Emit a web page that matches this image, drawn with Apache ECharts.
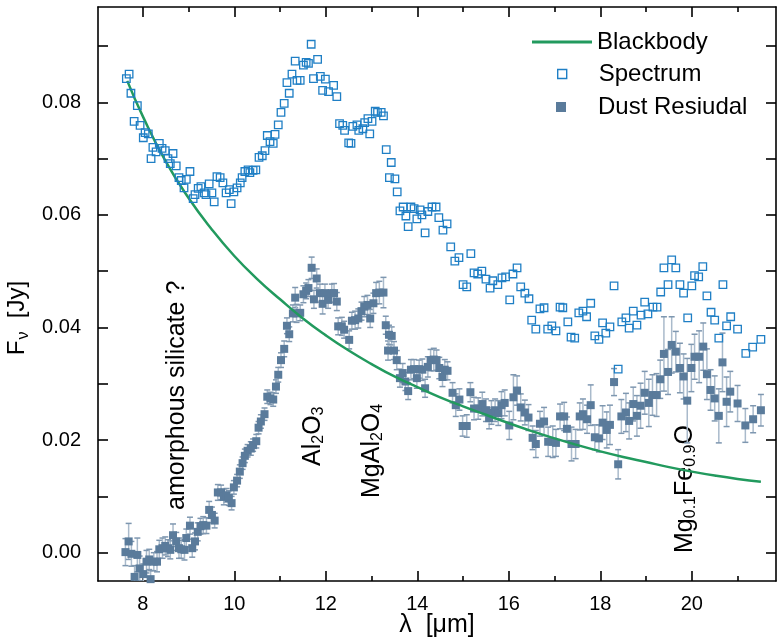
<!DOCTYPE html>
<html>
<head>
<meta charset="utf-8">
<script src="https://cdn.jsdelivr.net/npm/echarts@6/dist/echarts.min.js"></script>
<style>
html,body{margin:0;padding:0;background:#fff}
#main{width:777px;height:637px}
</style>
</head>
<body>
<div id="main"></div>
<script>
// 光谱 (空心方块)
var specX = [7.64,7.70,7.74,7.81,7.88,7.94,8.01,8.05,8.12,8.18,8.22,8.29,8.36,8.42,8.49,8.55,8.60,8.66,8.73,8.79,8.84,8.90,8.95,9.03,9.10,9.14,9.21,9.27,9.34,9.38,9.45,9.51,9.56,9.62,9.69,9.75,9.82,9.89,9.93,9.99,10.06,10.13,10.17,10.23,10.30,10.34,10.41,10.47,10.54,10.61,10.67,10.72,10.78,10.85,10.89,10.96,11.02,11.09,11.15,11.20,11.26,11.33,11.37,11.44,11.51,11.57,11.62,11.68,11.73,11.82,11.88,11.93,11.99,12.06,12.17,12.24,12.30,12.37,12.41,12.50,12.55,12.59,12.68,12.72,12.81,12.85,12.92,12.96,13.01,13.08,13.13,13.21,13.26,13.32,13.39,13.43,13.51,13.56,13.62,13.69,13.75,13.80,13.86,13.93,13.99,14.06,14.10,14.17,14.23,14.32,14.41,14.47,14.56,14.65,14.73,14.82,14.91,15.00,15.08,15.17,15.24,15.32,15.41,15.50,15.59,15.65,15.76,15.85,15.93,16.02,16.09,16.18,16.26,16.35,16.44,16.50,16.59,16.68,16.77,16.85,16.94,17.03,17.12,17.18,17.29,17.36,17.44,17.53,17.62,17.70,17.79,17.88,17.97,18.05,18.12,18.21,18.30,18.39,18.47,18.56,18.63,18.72,18.80,18.89,18.97,19.04,19.15,19.24,19.32,19.39,19.48,19.56,19.65,19.74,19.82,19.91,20.00,20.06,20.15,20.24,20.33,20.42,20.50,20.59,20.68,20.76,20.85,21.00,21.18,21.33,21.51];
var specY = [0.0842,0.0850,0.0816,0.0766,0.0794,0.0759,0.0737,0.0746,0.0744,0.0700,0.0720,0.0712,0.0727,0.0718,0.0714,0.0700,0.0691,0.0709,0.0687,0.0666,0.0661,0.0648,0.0663,0.0677,0.0629,0.0636,0.0647,0.0650,0.0639,0.0636,0.0655,0.0639,0.0623,0.0668,0.0666,0.0657,0.0639,0.0645,0.0620,0.0641,0.0648,0.0657,0.0666,0.0677,0.0680,0.0675,0.0679,0.0680,0.0702,0.0705,0.0714,0.0741,0.0730,0.0727,0.0743,0.0760,0.0782,0.0798,0.0835,0.0816,0.0850,0.0873,0.0839,0.0839,0.0866,0.0871,0.0869,0.0903,0.0842,0.0876,0.0846,0.0821,0.0841,0.0819,0.0830,0.0810,0.0762,0.0759,0.0750,0.0728,0.0727,0.0757,0.0760,0.0750,0.0753,0.0764,0.0771,0.0744,0.0766,0.0784,0.0782,0.0782,0.0776,0.0716,0.0666,0.0693,0.0664,0.0641,0.0607,0.0614,0.0598,0.0579,0.0614,0.0611,0.0593,0.0609,0.0600,0.0568,0.0606,0.0614,0.0614,0.0595,0.0573,0.0584,0.0543,0.0518,0.0524,0.0476,0.0472,0.0531,0.0497,0.0495,0.0500,0.0486,0.0470,0.0483,0.0476,0.0488,0.0490,0.0449,0.0495,0.0506,0.0472,0.0461,0.0451,0.0413,0.0397,0.0433,0.0435,0.0397,0.0403,0.0394,0.0436,0.0435,0.0410,0.0383,0.0381,0.0426,0.0429,0.0419,0.0443,0.0385,0.0379,0.0408,0.0390,0.0401,0.0474,0.0326,0.0410,0.0417,0.0399,0.0429,0.0404,0.0422,0.0445,0.0424,0.0436,0.0436,0.0463,0.0506,0.0476,0.0520,0.0506,0.0476,0.0461,0.0417,0.0474,0.0492,0.0490,0.0508,0.0456,0.0427,0.0413,0.0381,0.0476,0.0403,0.0419,0.0397,0.0354,0.0365,0.0379];

// 尘埃残差 (实心方块 + 误差棒)
var dustX = [7.62,7.69,7.75,7.82,7.88,7.93,8.01,8.08,8.14,8.17,8.24,8.31,8.36,8.43,8.49,8.55,8.60,8.66,8.73,8.79,8.84,8.91,8.95,9.03,9.08,9.14,9.20,9.26,9.32,9.39,9.45,9.51,9.57,9.64,9.71,9.77,9.83,9.88,9.94,9.99,10.06,10.12,10.18,10.23,10.29,10.36,10.41,10.48,10.53,10.58,10.66,10.72,10.79,10.85,10.91,10.96,11.02,11.09,11.15,11.20,11.28,11.33,11.36,11.44,11.51,11.57,11.62,11.69,11.74,11.80,11.87,11.93,11.98,12.05,12.13,12.18,12.24,12.27,12.35,12.40,12.51,12.57,12.64,12.71,12.78,12.84,12.91,12.97,13.04,13.10,13.17,13.26,13.31,13.36,13.38,13.44,13.49,13.55,13.62,13.68,13.74,13.80,13.86,13.93,13.99,14.04,14.11,14.17,14.23,14.29,14.36,14.42,14.48,14.55,14.60,14.66,14.77,14.84,14.92,14.99,15.08,15.16,15.24,15.33,15.42,15.50,15.57,15.62,15.70,15.77,15.84,15.91,16.01,16.10,16.18,16.26,16.35,16.43,16.52,16.59,16.68,16.77,16.86,16.96,17.03,17.12,17.21,17.27,17.37,17.46,17.55,17.62,17.71,17.79,17.88,17.97,18.05,18.14,18.21,18.30,18.39,18.46,18.56,18.63,18.72,18.80,18.88,18.97,19.06,19.14,19.23,19.31,19.39,19.48,19.56,19.65,19.74,19.82,19.90,19.99,20.06,20.16,20.25,20.33,20.41,20.50,20.59,20.67,20.76,20.84,21.00,21.17,21.34,21.51];
var dustY = [0.0001,0.0020,-0.0002,-0.0043,-0.0004,-0.0028,-0.0038,-0.0016,-0.0012,-0.0047,-0.0016,-0.0016,0.0006,0.0008,0.0012,0.0008,0.0005,0.0031,0.0020,0.0008,0.0006,0.0005,0.0026,0.0048,0.0008,0.0020,0.0037,0.0047,0.0049,0.0048,0.0076,0.0067,0.0057,0.0107,0.0107,0.0099,0.0102,0.0097,0.0088,0.0116,0.0128,0.0144,0.0159,0.0172,0.0181,0.0185,0.0191,0.0198,0.0222,0.0233,0.0246,0.0277,0.0274,0.0272,0.0295,0.0316,0.0342,0.0362,0.0403,0.0388,0.0425,0.0453,0.0425,0.0426,0.0459,0.0465,0.0470,0.0506,0.0450,0.0487,0.0461,0.0442,0.0461,0.0449,0.0461,0.0461,0.0446,0.0402,0.0402,0.0396,0.0378,0.0412,0.0413,0.0416,0.0429,0.0437,0.0440,0.0416,0.0443,0.0461,0.0462,0.0462,0.0404,0.0359,0.0387,0.0385,0.0359,0.0342,0.0310,0.0319,0.0304,0.0287,0.0325,0.0326,0.0310,0.0326,0.0325,0.0292,0.0330,0.0342,0.0343,0.0342,0.0328,0.0312,0.0325,0.0323,0.0284,0.0262,0.0272,0.0225,0.0225,0.0285,0.0256,0.0256,0.0264,0.0253,0.0239,0.0249,0.0253,0.0248,0.0262,0.0266,0.0226,0.0276,0.0288,0.0258,0.0249,0.0240,0.0204,0.0193,0.0229,0.0233,0.0197,0.0197,0.0195,0.0242,0.0242,0.0220,0.0193,0.0193,0.0242,0.0246,0.0237,0.0262,0.0205,0.0203,0.0231,0.0218,0.0227,0.0303,0.0157,0.0242,0.0249,0.0234,0.0264,0.0243,0.0261,0.0284,0.0266,0.0280,0.0280,0.0308,0.0353,0.0321,0.0369,0.0357,0.0328,0.0313,0.0270,0.0328,0.0348,0.0348,0.0366,0.0317,0.0289,0.0274,0.0243,0.0338,0.0268,0.0286,0.0265,0.0226,0.0237,0.0253];
var dustErr = [0.0024,0.0032,0.0022,0.0020,0.0030,0.0022,0.0018,0.0020,0.0018,0.0015,0.0016,0.0018,0.0016,0.0018,0.0016,0.0015,0.0016,0.0020,0.0016,0.0018,0.0016,0.0018,0.0016,0.0015,0.0016,0.0015,0.0016,0.0014,0.0015,0.0014,0.0015,0.0014,0.0013,0.0014,0.0013,0.0014,0.0012,0.0013,0.0012,0.0012,0.0011,0.0012,0.0011,0.0012,0.0011,0.0012,0.0011,0.0012,0.0011,0.0012,0.0011,0.0012,0.0011,0.0012,0.0012,0.0013,0.0013,0.0014,0.0014,0.0013,0.0015,0.0018,0.0016,0.0014,0.0015,0.0014,0.0015,0.0019,0.0016,0.0017,0.0016,0.0018,0.0016,0.0015,0.0016,0.0017,0.0016,0.0015,0.0016,0.0015,0.0016,0.0015,0.0016,0.0017,0.0016,0.0018,0.0017,0.0016,0.0018,0.0019,0.0020,0.0027,0.0016,0.0017,0.0017,0.0016,0.0016,0.0017,0.0016,0.0017,0.0016,0.0015,0.0018,0.0017,0.0018,0.0016,0.0019,0.0016,0.0018,0.0019,0.0020,0.0018,0.0019,0.0017,0.0018,0.0016,0.0018,0.0020,0.0019,0.0018,0.0020,0.0017,0.0020,0.0019,0.0021,0.0020,0.0019,0.0021,0.0020,0.0022,0.0024,0.0023,0.0025,0.0040,0.0026,0.0024,0.0022,0.0023,0.0021,0.0024,0.0022,0.0025,0.0026,0.0028,0.0024,0.0022,0.0025,0.0021,0.0030,0.0026,0.0024,0.0027,0.0025,0.0036,0.0022,0.0024,0.0030,0.0032,0.0035,0.0024,0.0026,0.0030,0.0034,0.0032,0.0030,0.0036,0.0040,0.0038,0.0042,0.0036,0.0038,0.0034,0.0066,0.0040,0.0050,0.0036,0.0044,0.0040,0.0075,0.0042,0.0040,0.0046,0.0042,0.0045,0.0036,0.0040,0.0048,0.0052,0.0044,0.0036,0.0032,0.0030,0.0024,0.0028];

// 黑体曲线
var bbX = [7.66,8.0,8.5,9.0,9.5,10.0,10.5,11.0,11.5,12.0,12.5,13.0,13.5,14.0,14.5,15.0,15.5,16.0,16.5,17.0,17.5,18.0,18.5,19.0,19.5,20.0,20.5,21.0,21.51];
var bbY = [0.0838,0.0775,0.0695,0.0630,0.0575,0.0527,0.0486,0.0450,0.0416,0.0386,0.0359,0.0335,0.0313,0.0294,0.0276,0.0260,0.0245,0.0230,0.0216,0.0203,0.0191,0.0180,0.0170,0.0161,0.0152,0.0144,0.0137,0.0131,0.0126];

// 刻度
var xMajor = [8,10,12,14,16,18,20];
var xMinor = [9,11,13,15,17,19,21];
var yMajor = [0,0.02,0.04,0.06,0.08];
var yTicks = [0,0.01,0.02,0.03,0.04,0.05,0.06,0.07,0.08,0.09];

(function(){
  var FONT = '"Liberation Sans", Arial, sans-serif';
  var specData = specX.map(function(x,i){ return [x, specY[i]]; });
  var dustData = dustX.map(function(x,i){ return [x, dustY[i]]; });
  var errData = dustX.map(function(x,i){ return [x, dustY[i], dustErr[i]]; });
  var bbData = bbX.map(function(x,i){ return [x, bbY[i]]; });

  var myChart = echarts.init(document.getElementById('main'));

  function xAx(pos, ticks, len, showLine, showLabel){
    return {
      type:'value', position:pos, min:7.02, max:21.84,
      splitLine:{show:false},
      axisLine:{show:showLine, onZero:false, lineStyle:{color:'#000', width:1.6}},
      axisTick:{show:true, inside:true, length:len, customValues:ticks, lineStyle:{color:'#000', width:1.6}},
      axisLabel:{show:showLabel, customValues:xMajor, margin:13, color:'#000', fontSize:20, fontFamily:FONT}
    };
  }
  function yAx(pos, showLabel){
    return {
      type:'value', position:pos, min:-0.00503, max:0.09692,
      splitLine:{show:false},
      axisLine:{show:true, onZero:false, lineStyle:{color:'#000', width:1.6}},
      axisTick:{show:true, inside:true, length:10, customValues:yTicks, lineStyle:{color:'#000', width:1.6}},
      axisLabel:{show:showLabel, customValues:yMajor, margin:17, color:'#000', fontSize:20, fontFamily:FONT,
        formatter:function(v){ return v.toFixed(2); }}
    };
  }

  var xb = xAx('bottom', xMajor, 10, true, true);
  xb.name = 'λ  [μm]';
  xb.nameLocation = 'middle';
  xb.nameGap = 32;
  xb.nameMoveOverlap = false;
  xb.nameTextStyle = {color:'#000', fontSize:25, fontFamily:FONT, verticalAlign:'top'};

  var yl = yAx('left', true);
  yl.name = '{m|F}{s|ν}{m|  [Jy]}';
  yl.nameLocation = 'middle';
  yl.nameGap = 60;
  yl.nameTextStyle = {color:'#000', fontFamily:FONT, padding:[0,48,0,0],
    rich:{m:{fontSize:24, lineHeight:26, verticalAlign:'top', color:'#000', fontFamily:FONT},
          s:{fontSize:16, lineHeight:16, verticalAlign:'bottom', padding:[14,0,0,1], color:'#000', fontFamily:FONT}}};

  var sub = function(fs){
    return {
      m:{fontSize:fs, lineHeight:26, verticalAlign:'top', fill:'#000', fontFamily:FONT},
      s:{fontSize:16, lineHeight:16, verticalAlign:'bottom', padding:[15,0,0,0], fill:'#000', fontFamily:FONT}
    };
  };

  var legendText = {fontSize:24, color:'#000', fontFamily:FONT};

  var option = {
    animation:false,
    backgroundColor:'#fff',
    grid:{left:98, right:1, top:7, bottom:56, containLabel:false, outerBoundsMode:'none'},
    xAxis:[
      xb,
      xAx('bottom', xMinor, 5, false, false),
      xAx('top', xMajor, 10, true, false),
      xAx('top', xMinor, 5, false, false)
    ],
    yAxis:[ yl, yAx('right', false) ],
    legend:[
      {data:[{name:'Blackbody', icon:'path://M0,0L60,0L60,3L0,3Z'}], left:532, top:30, padding:0, itemWidth:60, itemHeight:3,
       itemStyle:{color:'#229a5e', borderWidth:0},
       textStyle:legendText},
      {data:[{name:'Spectrum', icon:'rect'}], left:557, top:62, padding:0, itemWidth:9, itemHeight:9,
       itemStyle:{color:'#fff', borderColor:'#1f7fc5', borderWidth:1.4},
       textStyle:{fontSize:24, color:'#000', fontFamily:FONT, padding:[0,0,0,27]}},
      {data:[{name:'Dust Resiudal', icon:'rect'}], left:556, top:95, padding:0, itemWidth:10, itemHeight:10,
       itemStyle:{color:'#5a7b9b', borderWidth:0},
       textStyle:{fontSize:24, color:'#000', fontFamily:FONT, padding:[0,0,0,27]}}
    ],
    graphic:[
      {type:'text', x:177, y:510, rotation:Math.PI/2,
       style:{text:'amorphous silicate ?', fontSize:25, fontFamily:FONT, fill:'#000', align:'left', verticalAlign:'middle'}},
      {type:'text', x:314, y:466, rotation:Math.PI/2,
       style:{text:'{m|Al}{s|2}{m|O}{s|3}', rich:sub(25), fill:'#000', align:'left', verticalAlign:'middle'}},
      {type:'text', x:373, y:498, rotation:Math.PI/2,
       style:{text:'{m|MgAl}{s|2}{m|O}{s|4}', rich:sub(25), fill:'#000', align:'left', verticalAlign:'middle'}},
      {type:'text', x:686, y:553, rotation:Math.PI/2,
       style:{text:'{m|Mg}{s|0.1}{m|Fe}{s|0.9}{m|O}', rich:sub(25), fill:'#000', align:'left', verticalAlign:'middle'}}
    ],
    series:[
      {
        name:'Dust err', type:'custom', clip:true, z:1,
        data:errData,
        encode:{x:0, y:1},
        renderItem:function(params, api){
          var x = api.value(0), y = api.value(1), e = api.value(2);
          var top = api.coord([x, y + e]);
          var bot = api.coord([x, y - e]);
          var c = 3;
          return {type:'group', children:[
            {type:'line', shape:{x1:top[0], y1:top[1], x2:bot[0], y2:bot[1]}, style:{stroke:'#a9bacb', lineWidth:1.5}},
            {type:'line', shape:{x1:top[0]-c, y1:top[1], x2:top[0]+c, y2:top[1]}, style:{stroke:'#7e97b0', lineWidth:1.5}},
            {type:'line', shape:{x1:bot[0]-c, y1:bot[1], x2:bot[0]+c, y2:bot[1]}, style:{stroke:'#7e97b0', lineWidth:1.5}}
          ]};
        }
      },
      {
        name:'Dust Resiudal', type:'scatter', z:2,
        symbol:'rect', symbolSize:8,
        itemStyle:{color:'#5a7b9b', opacity:1},
        data:dustData
      },
      {
        name:'Blackbody', type:'line', z:3,
        smooth:true, symbol:'none', showSymbol:false,
        lineStyle:{color:'#229a5e', width:2.5},
        itemStyle:{color:'#229a5e'},
        data:bbData
      },
      {
        name:'Spectrum', type:'scatter', z:4,
        symbol:'rect', symbolSize:7.5,
        itemStyle:{color:'rgba(255,255,255,0)', borderColor:'#1f7fc5', borderWidth:1.3, opacity:1},
        data:specData
      }
    ]
  };
  myChart.setOption(option);
  window.addEventListener('resize', function(){ myChart.resize(); });
})();
</script>
</body>
</html>
